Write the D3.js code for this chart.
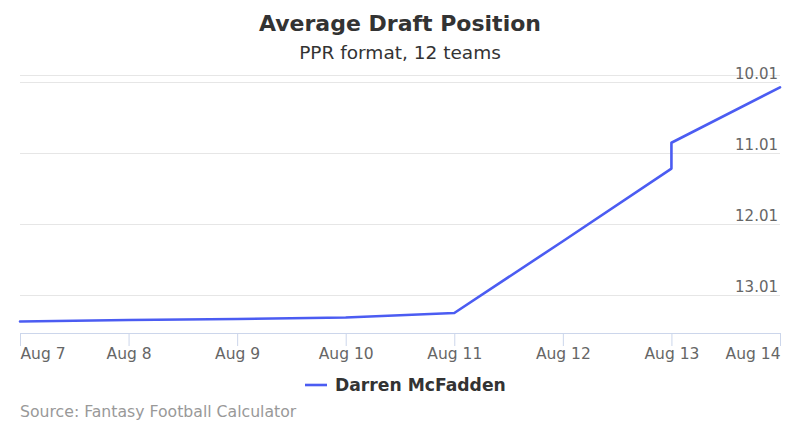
<!DOCTYPE html>
<html>
<head>
<meta charset="utf-8">
<script src="https://cdn.jsdelivr.net/npm/d3@7"></script>
<style>
  html, body { margin: 0; padding: 0; background: #fff; }
  svg text { font-family: "DejaVu Sans", "Lucida Grande", Verdana, sans-serif; }
</style>
</head>
<body>
<div id="chart"></div>
<script>
// ---- data ----
const dates = ["2015-08-07", "2015-08-08", "2015-08-09", "2015-08-10", "2015-08-11",
               "2015-08-12", "2015-08-13", "2015-08-13", "2015-08-14"];
const adp = [13.387, 13.366, 13.352, 13.332, 13.268, 12.255, 11.23, 10.866, 10.085];
const seriesName = "Darren McFadden";
const yTicks = [10.01, 11.01, 12.01, 13.01];
const xTickDates = ["2015-08-07", "2015-08-08", "2015-08-09", "2015-08-10",
                    "2015-08-11", "2015-08-12", "2015-08-13", "2015-08-14"];
const titleText = "Average Draft Position";
const subtitleText = "PPR format, 12 teams";
const creditText = "Source: Fantasy Football Calculator";

// ---- layout ----
const W = 800, H = 440;
const plot = { left: 20, right: 780, top: 75, bottom: 333 };
const parse = d3.timeParse("%Y-%m-%d");
const points = dates.map((d, i) => ({ date: parse(d), value: adp[i] }));

const svg = d3.select("#chart").append("svg")
  .attr("width", W).attr("height", H);

const x = d3.scaleTime()
  .domain([parse(xTickDates[0]), parse(xTickDates[xTickDates.length - 1])])
  .range([plot.left, plot.right]);
const y = d3.scaleLinear()
  .domain([9.91, 13.55])   // reversed: best ADP at top
  .range([plot.top, plot.bottom]);

// title
svg.append("text").attr("x", W / 2).attr("y", 31)
  .attr("text-anchor", "middle").attr("fill", "#333")
  .style("font-size", "22px").style("font-weight", "bold")
  .text(titleText);
svg.append("text").attr("x", W / 2).attr("y", 59)
  .attr("text-anchor", "middle").attr("fill", "#333")
  .style("font-size", "18.5px")
  .text(subtitleText);

// gridlines
const gridVals = [y.domain()[0]].concat(yTicks);
svg.append("g").selectAll("line").data(gridVals).join("line")
  .attr("x1", plot.left).attr("x2", plot.right)
  .attr("y1", d => Math.round(y(d)) + 0.5).attr("y2", d => Math.round(y(d)) + 0.5)
  .attr("stroke", "#e6e6e6").attr("stroke-width", 1);

// y labels (right side, above gridline)
svg.append("g").selectAll("text").data(yTicks).join("text")
  .attr("x", plot.right - 2).attr("y", d => y(d) - 3)
  .attr("text-anchor", "end").attr("fill", "#666")
  .style("font-size", "15px")
  .text(d => d.toFixed(2));

// x axis
const xAxis = d3.axisBottom(x)
  .tickValues(xTickDates.map(parse))
  .tickSize(13)
  .tickFormat(d3.timeFormat("Aug %-d"));
const gx = svg.append("g").attr("transform", `translate(0,${plot.bottom})`).call(xAxis);
gx.select(".domain").attr("stroke", "#ccd6eb").attr("d", `M${plot.left},0.5H${plot.right}`);
gx.selectAll(".tick line").attr("stroke", "#ccd6eb");
gx.selectAll(".tick text")
  .attr("fill", "#666").attr("y", 26).attr("dy", 0)
  .style("font-size", "15.5px")
  .style("font-family", "'DejaVu Sans', sans-serif")
  .attr("text-anchor", (d, i) => i === 0 ? "start" : (i === xTickDates.length - 1 ? "end" : "middle"));

// line
const line = d3.line().x(d => x(d.date)).y(d => y(d.value));
svg.append("path").datum(points)
  .attr("d", line).attr("fill", "none")
  .attr("stroke", "#4b5cf2").attr("stroke-width", 2.6)
  .attr("stroke-linejoin", "round").attr("stroke-linecap", "round");

// legend
const lg = svg.append("g");
lg.append("line").attr("x1", 305).attr("x2", 327).attr("y1", 385).attr("y2", 385)
  .attr("stroke", "#4b5cf2").attr("stroke-width", 2.6);
lg.append("text").attr("x", 335).attr("y", 391)
  .attr("fill", "#333").style("font-size", "17.2px").style("font-weight", "bold")
  .text(seriesName);

// credits
svg.append("text").attr("x", 20).attr("y", 417)
  .attr("fill", "#999").style("font-size", "15.7px")
  .text(creditText);
</script>
</body>
</html>
